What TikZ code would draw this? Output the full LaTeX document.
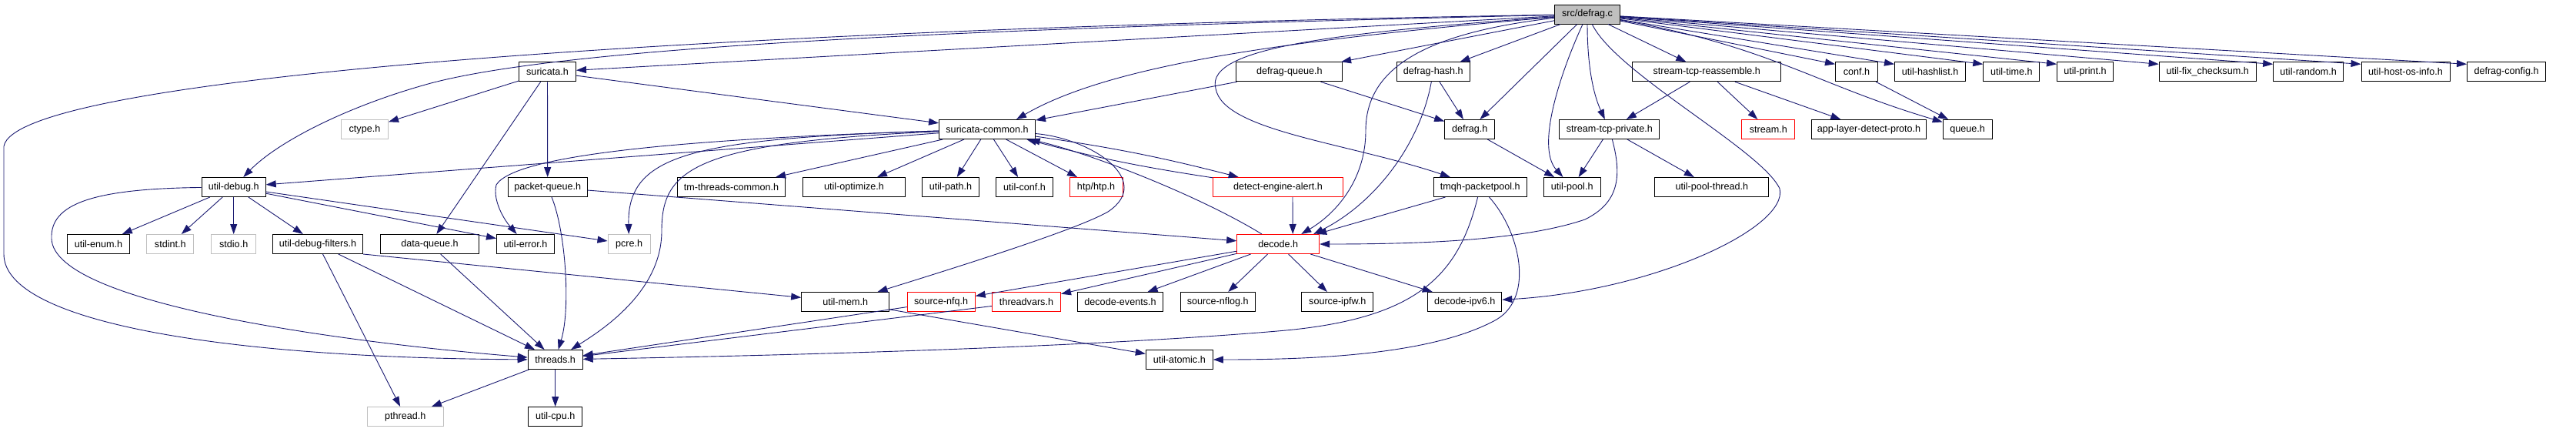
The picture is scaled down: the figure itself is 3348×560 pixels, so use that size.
\documentclass[tikz,border=0pt]{standalone}
\usepackage{fontspec}
\setmainfont{Liberation Sans}
\usetikzlibrary{arrows.meta}
\definecolor{navyedge}{HTML}{191970}

\begin{document}
\begin{tikzpicture}[x=1pt,y=-1pt,font=\fontsize{12.6}{14}\selectfont,
  blk/.style={draw=black,fill=white,line width=1pt,minimum width=#1,minimum height=25,inner sep=0pt},
  ext/.style={blk=#1,draw=gray!50},
  trc/.style={blk=#1,draw=red},
  rootblk/.style={blk=#1,fill=gray!50},
  arr/.style={-{Triangle[length=13pt,width=9pt]},draw=navyedge,line width=0.9pt}]
  \useasboundingbox (0,0) rectangle (3348,560);
  \node[rootblk=85](root) at (2063,18.5){src/defrag.c};
  \node[blk=74](suricata) at (711.5,93.3){suricata.h};
  \node[blk=138](dqueue) at (1675.8,93.3){defrag-queue.h};
  \node[blk=95](dhash) at (1862.7,93.3){defrag-hash.h};
  \node[blk=193](streasm) at (2218.3,93.3){stream-tcp-reassemble.h};
  \node[blk=55](conf) at (2413,93.3){conf.h};
  \node[blk=92](hashlist) at (2508.5,93.3){util-hashlist.h};
  \node[blk=73](utime) at (2614.3,93.3){util-time.h};
  \node[blk=73](uprint) at (2710,93.3){util-print.h};
  \node[blk=126](fixcs) at (2869.2,93.3){util-fix\_checksum.h};
  \node[blk=91](urandom) at (3000.2,93.3){util-random.h};
  \node[blk=115](hostos) at (3126.5,93.3){util-host-os-info.h};
  \node[blk=102](dconfig) at (3257.5,93.3){defrag-config.h};
  \node[ext=61](ctype) at (474,168){ctype.h};
  \node[blk=125](scommon) at (1283,168){suricata-common.h};
  \node[blk=65](defragh) at (1910.2,168){defrag.h};
  \node[blk=130](stpriv) at (2091.8,168){stream-tcp-private.h};
  \node[trc=69](stream) at (2298.3,168){stream.h};
  \node[blk=149](aldp) at (2429,168){app-layer-detect-proto.h};
  \node[blk=64](queue) at (2557.2,168){queue.h};
  \node[blk=83](udebug) at (303.7,243){util-debug.h};
  \node[blk=103](pqueue) at (711.7,243){packet-queue.h};
  \node[blk=140](tmtc) at (950.5,243){tm-threads-common.h};
  \node[blk=133](uopt) at (1110,243){util-optimize.h};
  \node[blk=74](upath) at (1235.5,243){util-path.h};
  \node[blk=74](uconf) at (1331.5,243){util-conf.h};
  \node[trc=69](htp) at (1424.5,243){htp/htp.h};
  \node[trc=169](dealert) at (1661,243){detect-engine-alert.h};
  \node[blk=121](tmqh) at (1923.8,243){tmqh-packetpool.h};
  \node[blk=74](upool) at (2043.2,243){util-pool.h};
  \node[blk=148](upthr) at (2224.8,243){util-pool-thread.h};
  \node[blk=81](uenum) at (128,317){util-enum.h};
  \node[ext=61](stdint) at (221.3,317){stdint.h};
  \node[ext=58](stdio) at (303.7,317){stdio.h};
  \node[blk=117](udfilt) at (413,317){util-debug-filters.h};
  \node[blk=128](dataq) at (558.5,317){data-queue.h};
  \node[blk=75](uerror) at (683,317){util-error.h};
  \node[ext=55](pcre) at (817.5,317){pcre.h};
  \node[trc=107](decode) at (1661.2,317){decode.h};
  \node[blk=114](umem) at (1098.7,392){util-mem.h};
  \node[trc=88](snfq) at (1223.2,392){source-nfq.h};
  \node[trc=89](tvars) at (1334,392){threadvars.h};
  \node[blk=111](devents) at (1456,392){decode-events.h};
  \node[blk=97](snflog) at (1582.7,392){source-nflog.h};
  \node[blk=93](sipfw) at (1738.3,392){source-ipfw.h};
  \node[blk=96](dipv6) at (1903.8,392){decode-ipv6.h};
  \node[blk=71](threads) at (721.7,467){threads.h};
  \node[blk=87](uatomic) at (1532.8,467){util-atomic.h};
  \node[ext=99](pthread) at (526.7,541){pthread.h};
  \node[blk=70](ucpu) at (721.7,541){util-cpu.h};
  \draw[arr](root)--(suricata);
  \draw[arr](root) .. controls (1700,50) and (1450,80) .. ([xshift=-25pt]scommon.north east);
  \draw[arr](root) .. controls (900,38) and (20,100) .. (5,190) -- (5,330) .. controls (5,420) and (300,465) .. (threads);
  \draw[arr](root) .. controls (1300,36) and (750,58) .. (560,108) .. controls (450,138) and (360,185) .. (udebug);
  \draw[arr](root)--(dqueue);\draw[arr](root)--(dhash);\draw[arr](root)--(defragh);
  \draw[arr](root) .. controls (1830,45) and (1775,100) .. (1775,170) .. controls (1775,230) and (1740,275) .. ([xshift=30pt]decode.north);
  \draw[arr](root) .. controls (1750,42) and (1565,60) .. (1580,115) .. controls (1590,170) and (1750,185) .. (tmqh);
  \draw[arr](root) .. controls (2030,90) and (1995,190) .. (upool);
  \draw[arr](root) .. controls (2063,90) and (2072,125) .. (stpriv);
  \draw[arr](root) .. controls (2100,95) and (2290,195) .. (2313,245) .. controls (2325,295) and (2150,378) .. (dipv6);
  \draw[arr](root)--(streasm);\draw[arr](root) .. controls (2300,60) and (2360,110) .. (queue);
  \draw[arr](root)--([yshift=-3pt]conf.north west);\draw[arr](root)--([yshift=-3pt]hashlist.north west);
  \draw[arr](root)--([yshift=-3pt]utime.north west);\draw[arr](root)--([yshift=-3pt]uprint.north west);
  \draw[arr](root)--([yshift=-3pt]fixcs.north west);\draw[arr](root)--([yshift=-3pt]urandom.north west);
  \draw[arr](root)--([yshift=-3pt]hostos.north west);\draw[arr](root)--([yshift=-3pt]dconfig.north west);
  \draw[arr](suricata)--(ctype);\draw[arr](suricata)--(pqueue);\draw[arr](suricata)--(dataq);\draw[arr](suricata)--(scommon);
  \draw[arr](dqueue)--(scommon);\draw[arr](dqueue)--(defragh);
  \draw[arr](dhash)--(defragh);\draw[arr](dhash) .. controls (1845,190) and (1785,265) .. ([xshift=-8pt]decode.north east);
  \draw[arr](scommon)--(udebug);\draw[arr](scommon)--(tmtc);\draw[arr](scommon)--(uopt);
  \draw[arr](scommon)--(upath);\draw[arr](scommon)--(uconf);\draw[arr](scommon)--(htp);
  \draw[arr](scommon) to[bend left=3] (dealert);\draw[arr](dealert) to[bend left=3] (scommon);
  \draw[arr](scommon) .. controls (900,180) and (670,200) .. (645,240) .. controls (640,260) and (655,285) .. (uerror);
  \draw[arr](scommon) .. controls (900,180) and (815,200) .. (pcre);
  \draw[arr](scommon) .. controls (900,185) and (860,220) .. (860,300) .. controls (860,380) and (780,430) .. (threads);
  \draw[arr](scommon) .. controls (1420,180) and (1500,235) .. (1440,275) .. controls (1400,298) and (1250,345) .. (umem);
  \draw[arr](decode) .. controls (1560,255) and (1420,200) .. (scommon);
  \draw[arr]([xshift=19pt]dealert.south)--([xshift=19pt]decode.north);
  \draw[arr](udebug)--(uenum);\draw[arr](udebug)--(stdint);\draw[arr](udebug)--(stdio);
  \draw[arr](udebug)--(udfilt);\draw[arr](udebug)--(uerror);\draw[arr](udebug)--(pcre);
  \draw[arr](udebug) .. controls (120,245) and (65,265) .. (67,310) .. controls (70,395) and (450,445) .. (threads);
  \draw[arr](udfilt)--(pthread);\draw[arr](udfilt)--(threads);\draw[arr](udfilt.south east)--(umem);
  \draw[arr](dataq)--(threads);
  \draw[arr](pqueue) .. controls (735,300) and (742,400) .. (threads);\draw[arr](pqueue)--(decode);
  \draw[arr](threads)--(pthread);\draw[arr](threads)--(ucpu);
  \draw[arr](snfq)--(threads);\draw[arr](tvars)--(threads);
  \draw[arr](tmqh) .. controls (1895,360) and (1840,415) .. (1660,430) .. controls (1400,452) and (1000,462) .. (threads);
  \draw[arr](tmqh)--([xshift=-4pt]decode.north east);
  \draw[arr](tmqh) .. controls (1975,300) and (1995,385) .. (1945,415) .. controls (1860,462) and (1700,467) .. (uatomic);
  \draw[arr](umem)--(uatomic);
  \draw[arr](decode)--(snfq);\draw[arr](decode)--(tvars);\draw[arr](decode)--(devents);
  \draw[arr](decode)--(snflog);\draw[arr](decode)--(sipfw);\draw[arr](decode)--(dipv6);
  \draw[arr](defragh)--(upool);\draw[arr](stpriv)--(upool);\draw[arr](stpriv)--(upthr);
  \draw[arr](stpriv) .. controls (2110,235) and (2100,265) .. (2060,285) .. controls (1980,312) and (1850,317) .. (decode);
  \draw[arr](streasm)--(stpriv);\draw[arr](streasm)--(stream);\draw[arr](streasm)--(aldp);
  \draw[arr](conf)--(queue);
\end{tikzpicture}
\end{document}
